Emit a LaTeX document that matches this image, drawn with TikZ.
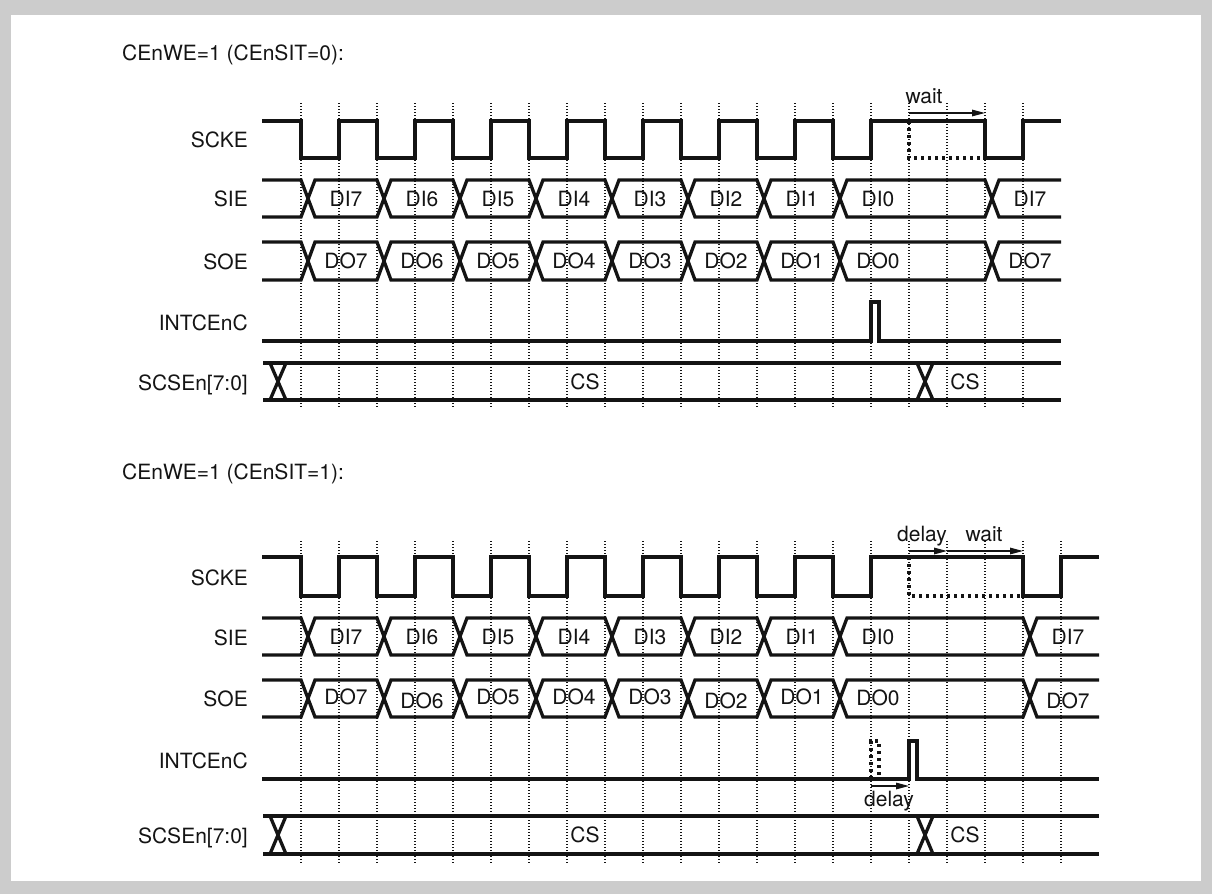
\documentclass[tikz,border=0pt]{standalone}
\usepackage{fontspec}
\setmainfont{TeX Gyre Heros}
\usetikzlibrary{arrows.meta}
\definecolor{framegray}{RGB}{204,204,204}
\definecolor{ink}{RGB}{20,20,20}
\tikzset{
  sig/.style={line width=3.3pt, draw=ink},
  sigdot/.style={line width=3.3pt, draw=ink, dash pattern=on 3.3pt off 3.7pt},
  gridln/.style={line width=1.3pt, draw=ink, dash pattern=on 1.3pt off 1.7pt},
  arr/.style={line width=1.4pt, draw=ink, -{Triangle[length=13pt,width=6.5pt]}},
  txt/.style={font=\fontsize{21}{25}\selectfont, text=ink, inner sep=0pt},
  lbl/.style={txt, anchor=base east},
  dat/.style={txt, anchor=base},
}
\newcommand\tdbus[4]{%
  \draw[sig] (262,#1) foreach \x in {301,453,605,757} { -- (\x,#1) -- ({\x+14},#2) -- ({\x+76},#2) -- ({\x+90},#1) } -- (#3,#1) -- ({#3+14},#2) -- (#4,#2);}
\begin{document}
\begin{tikzpicture}[x=1pt,y=-1pt]
\useasboundingbox (0,0) rectangle (1212,894);
\fill[framegray] (0,0) rectangle (1212,894);
\fill[white] (11,15) rectangle (1201,881);

% ================= TOP DIAGRAM =================
\node[txt, anchor=base west] (t1) at (122,60) {CEnWE=1 (CEnSIT=0):};
\foreach \k in {0,...,19} \draw[gridln] ({301+38*\k},103) -- ({301+38*\k},408);

\node[lbl] (a1) at (248,147) {SCKE};
\node[lbl] (a2) at (248,206.5) {SIE};
\node[lbl] (a3) at (248,269) {SOE};
\node[lbl] (a4) at (248,330) {INTCEnC};
\node[lbl] (a5) at (248,390) {SCSEn[7:0]};

% SCKE
\draw[sig] (262,121) foreach \x in {301,377,...,833} { -- (\x,121) -- (\x,158) -- ({\x+38},158) -- ({\x+38},121) } -- (985,121) -- (985,158) -- (1023,158) -- (1023,121) -- (1061,121);
\draw[sigdot] (909,121) -- (909,158) -- (985,158);
\coordinate (w1s) at (909,113);
\coordinate (w1e) at (985,113);
\draw[arr] (w1s) -- (w1e);
\node[dat] (w1) at (924,103) {wait};

% SIE
\tdbus{180}{217}{985}{1061}
\tdbus{217}{180}{985}{1061}
\foreach \x/\t [count=\i] in {346/DI7,422/DI6,498/DI5,574/DI4,650/DI3,726/DI2,802/DI1,878/DI0,1030/DI7}
  \node[dat] (si\i) at (\x,206) {\t};

% SOE
\tdbus{242}{280}{985}{1061}
\tdbus{280}{242}{985}{1061}
\foreach \x/\t [count=\i] in {346/DO7,422/DO6,498/DO5,574/DO4,650/DO3,726/DO2,802/DO1,878/DO0,1030/DO7}
  \node[dat] (so\i) at (\x,268.5) {\t};

% INTCEnC
\draw[sig] (262,341) -- (871,341) -- (871,302) -- (879,302) -- (879,341) -- (1061,341);

% SCSEn
\draw[sig] (263,363) -- (1061,363);
\draw[sig] (263,400) -- (1061,400);
\draw[sig] (270,363) -- (286,400);
\draw[sig] (270,400) -- (286,363);
\draw[sig] (917,363) -- (933,400);
\draw[sig] (917,400) -- (933,363);
\node[dat] (cs1) at (585,389.5) {CS};
\node[dat] (cs2) at (965,389.5) {CS};

% ================= BOTTOM DIAGRAM =================
\node[txt, anchor=base west] (t2) at (122,479) {CEnWE=1 (CEnSIT=1):};
\foreach \k in {0,...,20} \draw[gridln] ({301+38*\k},541) -- ({301+38*\k},863);

\node[lbl] (b1) at (248,585) {SCKE};
\node[lbl] (b2) at (248,645) {SIE};
\node[lbl] (b3) at (248,706) {SOE};
\node[lbl] (b4) at (248,768) {INTCEnC};
\node[lbl] (b5) at (248,843) {SCSEn[7:0]};

% SCKE
\draw[sig] (262,557) foreach \x in {301,377,...,833} { -- (\x,557) -- (\x,596) -- ({\x+38},596) -- ({\x+38},557) } -- (1023,557) -- (1023,596) -- (1061,596) -- (1061,557) -- (1099,557);
\draw[sigdot] (909,557) -- (909,596) -- (1023,596);
\coordinate (d1s) at (909,551);
\coordinate (d1e) at (947,551);
\coordinate (w2e) at (1023,551);
\draw[arr] (d1s) -- (d1e);
\draw[arr] (d1e) -- (w2e);
\node[dat] (d1) at (922,541) {delay};
\node[dat] (w2) at (984,541) {wait};

% SIE
\tdbus{618}{655}{1023}{1099}
\tdbus{655}{618}{1023}{1099}
\foreach \x/\t [count=\i] in {346/DI7,422/DI6,498/DI5,574/DI4,650/DI3,726/DI2,802/DI1,878/DI0,1068/DI7}
  \node[dat] (bsi\i) at (\x,644.5) {\t};

% SOE
\tdbus{680}{717}{1023}{1099}
\tdbus{717}{680}{1023}{1099}
\foreach \x/\y/\t [count=\i] in {346/704/DO7,422/708/DO6,498/704/DO5,574/704/DO4,650/704/DO3,726/708/DO2,802/704/DO1,878/705/DO0,1068/708/DO7}
  \node[dat] (bso\i) at (\x,\y) {\t};

% INTCEnC
\draw[sig] (262,779) -- (909,779) -- (909,741) -- (917,741) -- (917,779) -- (1099,779);
\draw[sigdot] (871,779) -- (871,741) -- (879,741) -- (879,779);
\coordinate (d2s) at (871,786);
\coordinate (d2e) at (909,786);
\draw[arr] (d2s) -- (d2e);
\node[dat] (d2) at (889,806) {delay};

% SCSEn
\draw[sig] (263,816) -- (1099,816);
\draw[sig] (263,854) -- (1099,854);
\draw[sig] (270,816) -- (286,854);
\draw[sig] (270,854) -- (286,816);
\draw[sig] (917,816) -- (933,854);
\draw[sig] (917,854) -- (933,816);
\node[dat] (cs3) at (585,842.5) {CS};
\node[dat] (cs4) at (965,842.5) {CS};
\end{tikzpicture}
\end{document}
